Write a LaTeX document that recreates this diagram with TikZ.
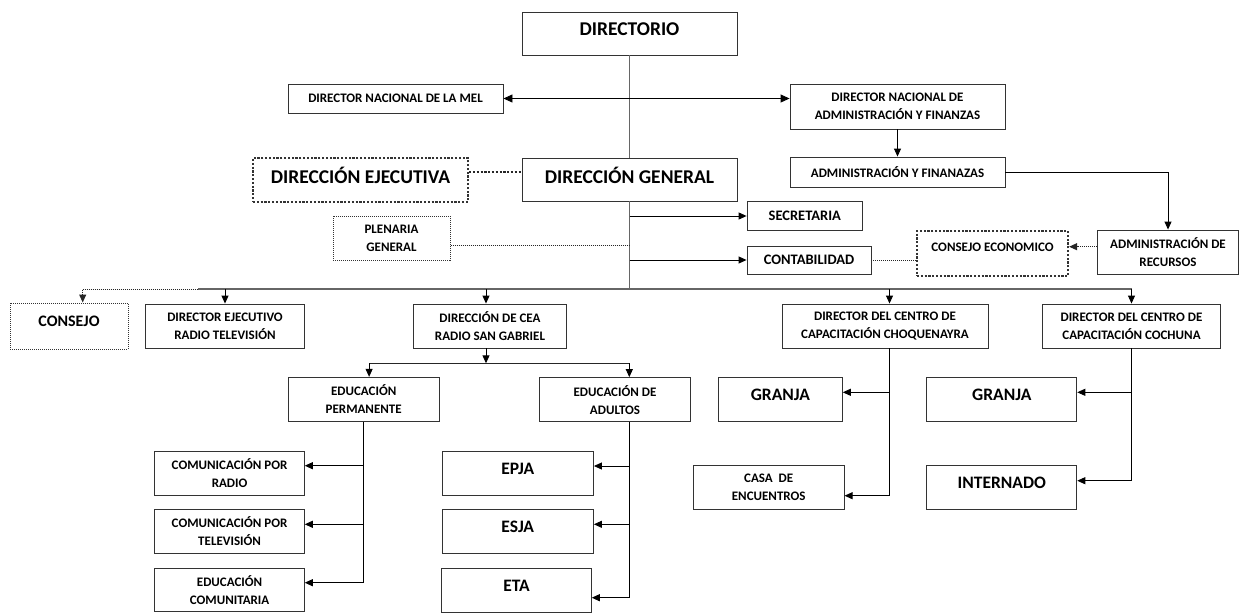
\documentclass[tikz,border=0pt]{standalone}
\usepackage{fontspec}
\setmainfont{Carlito}
\usetikzlibrary{arrows.meta}
\begin{document}
\begin{tikzpicture}[x=1pt,y=-1pt,
    box/.style={draw=black!80,line width=0.9pt,align=center,inner sep=1pt,
      font=\bfseries\fontsize{13}{18}\selectfont},
    wh/.style 2 args={minimum width=#1pt,minimum height=#2pt},
    lift/.style={text depth=#1pt},
    big/.style={font=\bfseries\fontsize{19.5}{22}\selectfont,lift=9},
    mid/.style={font=\bfseries\fontsize{14.5}{18}\selectfont},
    large/.style={font=\bfseries\fontsize{17.5}{20}\selectfont,lift=9},
    dotbox/.style={dash pattern=on 2.2pt off 1.6pt,line width=2.2pt},
    thindot/.style={dash pattern=on 1pt off 1pt,line width=1pt},
    arr/.style={-{Triangle[length=8pt,width=7pt]},line width=0.9pt},
    trunk/.style={draw=black!60,line width=1.8pt}]
      \useasboundingbox (0,0) rectangle (1241,614);
      \draw
        (629.5,33.5) node[box,big,wh={215}{43}] (dir){DIRECTORIO}
        (395.5,98.5) node[box,wh={215}{29}] (mel){DIRECTOR NACIONAL DE LA MEL}
        (897.5,106.5) node[box,wh={215}{45}] (dnaf){DIRECTOR NACIONAL DE\\ADMINISTRACIÓN Y FINANZAS}
        (360.5,180) node[box,big,dotbox,wh={215}{44}] (ejec){DIRECCIÓN EJECUTIVA}
        (629.5,179.5) node[box,big,wh={215}{43}] (gen){DIRECCIÓN GENERAL}
        (897.5,172) node[box,wh={215}{30}] (af){ADMINISTRACIÓN Y FINANAZAS}
        (391.5,238) node[box,thindot,wh={117}{44}] (plen){PLENARIA\\GENERAL}
        (804.8,216) node[box,mid,wh={115.5}{29.5}] (sec){SECRETARIA}
        (809,260) node[box,mid,wh={124}{28}] (cont){CONTABILIDAD}
        (992.5,253.5) node[box,dotbox,lift=13,wh={151}{45}] (cecon){CONSEJO ECONOMICO}
        (1168,252) node[box,wh={141}{44}] (rec){ADMINISTRACIÓN DE\\RECURSOS}
        (69,326) node[box,thindot,font=\bfseries\fontsize{16}{18}\selectfont,lift=9,wh={118}{46}] (consejo){CONSEJO}
        (225,326) node[box,wh={158.6}{44}] (rtv){DIRECTOR EJECUTIVO\\RADIO TELEVISIÓN}
        (490,326) node[box,wh={153}{44}] (cea){DIRECCIÓN DE CEA\\RADIO SAN GABRIEL}
        (885,326) node[box,wh={206}{44}] (choq){DIRECTOR DEL CENTRO DE\\CAPACITACIÓN CHOQUENAYRA}
        (1131.5,326) node[box,wh={177.6}{44}] (coch){DIRECTOR DEL CENTRO DE\\CAPACITACIÓN COCHUNA}
        (363.7,399.5) node[box,wh={150.7}{44.4}] (perm){EDUCACIÓN\\PERMANENTE}
        (615,399.6) node[box,wh={151.4}{44}] (adul){EDUCACIÓN DE\\ADULTOS}
        (780.4,399.5) node[box,large,wh={123.8}{44.4}] (granja1){GRANJA}
        (1001.8,399.5) node[box,large,wh={150}{44.4}] (granja2){GRANJA}
        (229.6,473) node[box,wh={149.4}{44}] (radio){COMUNICACIÓN POR\\RADIO}
        (229.6,531) node[box,wh={149.4}{44}] (tv){COMUNICACIÓN POR\\TELEVISIÓN}
        (229.6,590) node[box,wh={149.4}{43.4}] (com){EDUCACIÓN\\COMUNITARIA}
        (517.7,473) node[box,large,wh={151.5}{44}] (epja){EPJA}
        (517.7,531) node[box,large,wh={151.5}{44}] (esja){ESJA}
        (516.6,590.2) node[box,large,wh={149.4}{43.7}] (eta){ETA}
        (768.7,487.2) node[box,wh={150.8}{44.3}] (casa){CASA\ \ DE\\ENCUENTROS}
        (1001.8,487.2) node[box,large,wh={150}{44.3}] (intern){INTERNADO};
      \coordinate (bus) at (629.5,289.3);
      \coordinate (bl) at (198.3,289.3);
      \coordinate (br) at (1131.5,289.3);
      \coordinate (cj) at (82.7,289.3);
      \coordinate (split) at (486,363.3);
      \coordinate (pl) at (369.1,363.3);
      \coordinate (pr) at (629.3,363.3);
      \begin{scope}[trunk]
        \draw (dir) to (gen);
        \draw (gen.south) to (bus);
        \draw (bl) to (br);
      \end{scope}
      \begin{scope}[draw=black!85]
        \draw[dotbox] ([yshift=8pt]ejec.east) to ([yshift=8pt]ejec.east -| gen.west);
        \draw[thindot] ([yshift=-7.7pt]plen.east) to ([yshift=-7.7pt]plen.east -| gen.south);
        \draw[thindot] (cont.east) to (cont.east -| cecon.west);
        \draw[thindot,arr,line width=1pt] ([yshift=5.3pt]rec.west) to ([yshift=5.3pt]rec.west -| cecon.east);
        \draw[thindot,arr,line width=1pt] (bl) -- (cj) -- (cj |- consejo.north);
        \draw (pl) to (pr);
      \end{scope}
      \begin{scope}[arr]
        \draw[{Triangle[length=9pt,width=8pt]}-{Triangle[length=9pt,width=8pt]}] (mel.east) to (mel.east -| dnaf.west);
        \draw (dnaf) to (af);
        \draw (af.east) -| (rec.north);
        \draw (gen.south |- sec.west) to (sec.west);
        \draw (gen.south |- cont.west) to (cont.west);
        \draw (bus -| rtv.north) to (rtv.north);
        \draw (bus -| split) to (split |- cea.north);
        \draw (bus -| choq.north) ++(4.5,0) to ([xshift=4.5pt]choq.north);
        \draw (br) to (br |- coch.north);
        \draw (split |- cea.south) to (split);
        \draw (pl) to (pl |- perm.north);
        \draw (pr) to (pr |- adul.north);
        \draw (perm.south) |- ([yshift=7.3pt]radio.east);
        \draw (perm.south) |- ([yshift=6.7pt]tv.east);
        \draw (perm.south) |- ([yshift=7.3pt]com.east);
        \draw (pr |- adul.south) |- ([yshift=7pt]epja.east);
        \draw (pr |- adul.south) |- ([yshift=6.7pt]esja.east);
        \draw (pr |- adul.south) |- ([yshift=-7.5pt]eta.east);
        \draw ([xshift=4.5pt]choq.south) |- ([yshift=7.2pt]granja1.east);
        \draw ([xshift=4.5pt]choq.south) |- ([yshift=-8.5pt]casa.east);
        \draw (coch.south) |- ([yshift=7.2pt]granja2.east);
        \draw (coch.south) |- ([yshift=6.5pt]intern.east);
      \end{scope}
    \end{tikzpicture}
\end{document}
